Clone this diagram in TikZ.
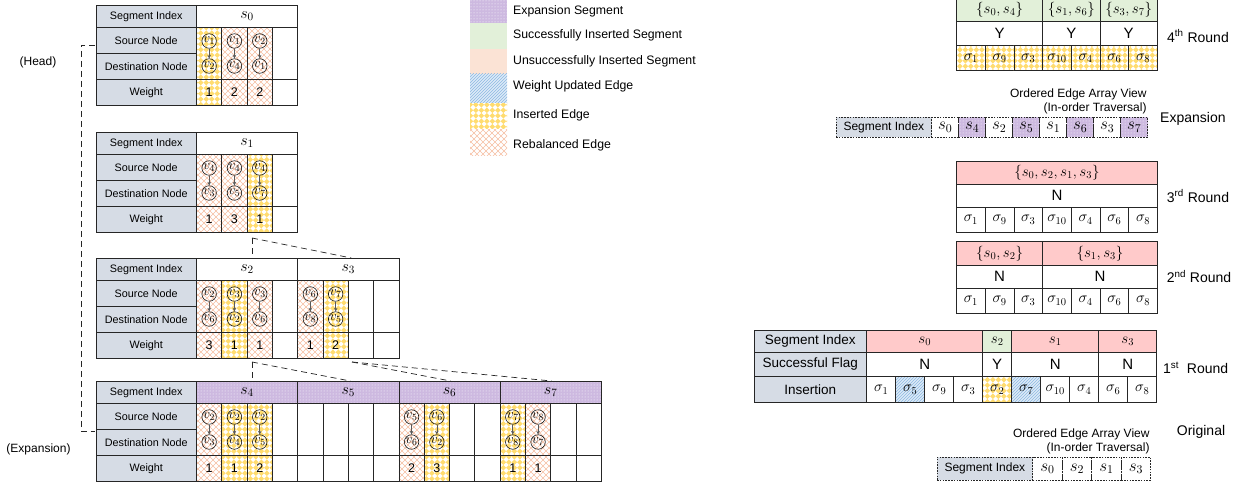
\documentclass[tikz,border=0pt]{standalone}
\usepackage{fix-cm}
\usepackage{fontspec}
\setmainfont{Liberation Sans}
\usetikzlibrary{arrows.meta,positioning,patterns}

\definecolor{labgray}{HTML}{D6DCE5}
\definecolor{okG}{HTML}{E2F0D9}
\definecolor{failR}{HTML}{FFCACA}
\definecolor{peach}{HTML}{FBE3D5}
\definecolor{expP}{HTML}{CDB9E0}
\definecolor{insY}{HTML}{FFDC70}
\definecolor{rebC}{HTML}{F6BFA3}
\definecolor{wbg}{HTML}{DDEBF7}
\definecolor{wline}{HTML}{8DB8E2}

% tilted checker for inserted edges
\pgfdeclarepatternformonly{diamondcheck}{\pgfqpoint{-0.1pt}{-0.1pt}}{\pgfqpoint{5.6pt}{5.6pt}}{\pgfqpoint{5.5pt}{5.5pt}}{%
  \pgfpathmoveto{\pgfqpoint{2.75pt}{0pt}}%
  \pgfpathlineto{\pgfqpoint{5.5pt}{2.75pt}}%
  \pgfpathlineto{\pgfqpoint{2.75pt}{5.5pt}}%
  \pgfpathlineto{\pgfqpoint{0pt}{2.75pt}}%
  \pgfpathclose
  \pgfusepath{fill}}
% diagonal cross hatch for rebalanced edges
\pgfdeclarepatternformonly{crossx}{\pgfqpoint{-0.5pt}{-0.5pt}}{\pgfqpoint{6.5pt}{6.5pt}}{\pgfqpoint{6pt}{6pt}}{%
  \pgfsetlinewidth{0.55pt}%
  \pgfpathmoveto{\pgfqpoint{0pt}{0pt}}\pgfpathlineto{\pgfqpoint{6pt}{6pt}}%
  \pgfpathmoveto{\pgfqpoint{0pt}{6pt}}\pgfpathlineto{\pgfqpoint{6pt}{0pt}}%
  \pgfusepath{stroke}}

% label column of a segment table
\newcommand{\labcol}{%
  \node[lab, minimum height=22.5] (si) at (50.25,11.25) {Segment Index};
  \node[lab] (sn) at (50.25,35.5) {Source Node};
  \node[lab] (dn) at (50.25,61.5) {Destination Node};
  \node[lab] (wt) at (50.25,87.5) {Weight};}
% one edge slot: column, look, source, destination, weight
\newcommand{\edgecol}[5]{%
  \node[ebox, #2, minimum height=52] (c#1) at ({113.15+25.3*#1},48.5) {};
  \node[ebox, #2] (w#1) at ({113.15+25.3*#1},87.5) {#5};
  \node[vtx] (u#1) at ({113.15+25.3*#1},36) {$v_{#3}$};
  \node[vtx] (d#1) at ({113.15+25.3*#1},61) {$v_{#4}$};
  \draw[earrow] (u#1) -- (d#1);}
\newcommand{\emptycol}[1]{%
  \node[ebox, minimum height=52] (c#1) at ({113.15+25.3*#1},48.5) {};
  \node[ebox] (w#1) at ({113.15+25.3*#1},87.5) {};}

\begin{document}
\begin{tikzpicture}[x=1pt, y=-1pt,
  tline/.style={draw=black!85, line width=0.8pt, outer sep=0pt},
  lab/.style={tline, fill=labgray, minimum width=100.5, minimum height=26, inner sep=0pt, font=\fontsize{10.8}{12}\selectfont},
  seghd/.style={tline, minimum height=22.5, inner sep=0pt, font=\fontsize{16}{16}\selectfont},
  ebox/.style={tline, minimum width=25.3, minimum height=26, inner sep=0pt, font=\fontsize{12.5}{13}\selectfont},
  vtx/.style={circle, draw=black!90, line width=0.6pt, minimum size=14.5, inner sep=0pt, font=\fontsize{13.5}{13.5}\selectfont},
  earrow/.style={-{Stealth[length=3.6pt,width=3.6pt]}, draw=black!65, line width=0.6pt},
  insedge/.style={preaction={fill=white}, pattern=diamondcheck, pattern color=insY},
  rebedge/.style={preaction={fill=white}, pattern=crossx, pattern color=rebC},
  wupd/.style={preaction={fill=wbg}, pattern=north east lines, pattern color=wline},
  expseg/.style={preaction={fill=expP}, pattern=dots, pattern color=white},
  okseg/.style={fill=okG},
  failseg/.style={fill=failR},
  failleg/.style={fill=peach},
  fork/.style={draw=black!85, line width=0.7pt, dash pattern=on 6pt off 4pt},
  side/.style={font=\fontsize{12}{14}\selectfont},
  rlab/.style={tline, fill=labgray, minimum width=112.7, inner sep=0pt, font=\fontsize{13.5}{14}\selectfont},
  rcell/.style={tline, inner sep=0pt, font=\fontsize{15}{15}\selectfont},
  c1/.style={minimum width=28.7}, c2/.style={minimum width=57.4},
  c3/.style={minimum width=86.1}, c4/.style={minimum width=114.8},
  c7/.style={minimum width=200.9},
  dline/.style={draw=black!85, line width=0.7pt, dash pattern=on 1.6pt off 1.2pt, outer sep=0pt, inner sep=0pt},
  viewcap/.style={align=right, font=\fontsize{12}{13.7}\selectfont, inner sep=1pt},
  rnd/.style={anchor=west, font=\fontsize{14}{16}\selectfont, inner sep=0pt},
  swatch/.style={minimum width=37, inner sep=0pt, outer sep=0pt},
  legtxt/.style={anchor=west, inner sep=0pt, font=\fontsize{12.3}{14}\selectfont}]

\path[use as bounding box, fill=white] (0,0) rectangle (1245,487);

% left: segment tables
\begin{scope}[shift={(96,5)}, name prefix=t0-]
  \labcol
  \node[seghd, minimum width=101.2] (s0) at (151.1,11.25) {$s_0$};
  \edgecol{0}{insedge}{1}{2}{1}
  \edgecol{1}{rebedge}{1}{4}{2}
  \edgecol{2}{rebedge}{2}{1}{2}
  \emptycol{3}
\end{scope}

\begin{scope}[shift={(96,132)}, name prefix=t1-]
  \labcol
  \node[seghd, minimum width=101.2] (s1) at (151.1,11.25) {$s_1$};
  \edgecol{0}{rebedge}{4}{3}{1}
  \edgecol{1}{rebedge}{4}{5}{3}
  \edgecol{2}{insedge}{4}{7}{1}
  \emptycol{3}
\end{scope}

\begin{scope}[shift={(96,258)}, name prefix=t2-]
  \labcol
  \node[seghd, minimum width=101.2] (s2) at (151.1,11.25) {$s_2$};
  \node[seghd, minimum width=101.2] (s3) at (252.3,11.25) {$s_3$};
  \edgecol{0}{rebedge}{2}{6}{3}
  \edgecol{1}{insedge}{3}{2}{1}
  \edgecol{2}{rebedge}{3}{6}{1}
  \emptycol{3}
  \edgecol{4}{rebedge}{6}{8}{1}
  \edgecol{5}{insedge}{7}{5}{2}
  \foreach \k in {6,7} {\emptycol{\k}}
\end{scope}

\begin{scope}[shift={(96,381)}, name prefix=t3-]
  \labcol
  \node[seghd, expseg, minimum width=101.2] (s4) at (151.1,11.25) {$s_4$};
  \node[seghd, expseg, minimum width=101.2] (s5) at (252.3,11.25) {$s_5$};
  \node[seghd, expseg, minimum width=101.2] (s6) at (353.5,11.25) {$s_6$};
  \node[seghd, expseg, minimum width=101.2] (s7) at (454.7,11.25) {$s_7$};
  \edgecol{0}{rebedge}{2}{3}{1}
  \edgecol{1}{insedge}{2}{4}{1}
  \edgecol{2}{insedge}{2}{5}{2}
  \foreach \k in {3,4,5,6,7} {\emptycol{\k}}
  \edgecol{8}{rebedge}{5}{6}{2}
  \edgecol{9}{insedge}{6}{2}{3}
  \foreach \k in {10,11} {\emptycol{\k}}
  \edgecol{12}{insedge}{7}{8}{1}
  \edgecol{13}{rebedge}{8}{7}{1}
  \foreach \k in {14,15} {\emptycol{\k}}
\end{scope}

\node[side] (head) at (38,62) {(Head)};
\node[side] (expn) at (38.5,449) {(Expansion)};
\coordinate (brtop) at (95,45);
\coordinate (brbot) at (95,431.5);
\draw[fork] (brtop) -- ++(-14,0) |- (brbot);

\coordinate (fork1) at (252,238);
\coordinate (fork2) at (252,362);
\coordinate (fork3) at (352,362);
\draw[fork] (fork1) -- (fork1 |- t2-s2.north);
\draw[fork] (fork1) -- ([xshift=3pt]t2-s3.north);
\draw[fork] (fork2) -- (fork2 |- t3-s4.north);
\draw[fork] (fork2) -- ([xshift=2pt]t3-s5.north);
\draw[fork] (fork3) -- ([xshift=1pt]t3-s6.north);
\draw[fork] (fork3) -- ([xshift=1pt]t3-s7.north);

% legend
\foreach \st/\ya/\yb/\yc/\txt [count=\k] in {expseg/0/23/11.7/Expansion Segment,
    okseg/23/49/35/Successfully Inserted Segment,
    failleg/49/74/61/Unsuccessfully Inserted Segment,
    wupd/74/103/86.7/Weight Updated Edge,
    insedge/103/129/115.7/Inserted Edge,
    rebedge/129/155/145/Rebalanced Edge} {
  \node[swatch, \st, minimum height={\yb-\ya}] (key\k) at (488.5,{(\ya+\yb)/2}) {};
  \node[legtxt] (keytxt\k) at (513,\yc) {\txt};
}

% right: 4th round
\node[rcell, okseg, c3, minimum height=23] (r4h1) at (999.55,9.5) {$\{s_0,s_4\}$};
\node[rcell, okseg, c2, minimum height=23] (r4h2) at (1071.3,9.5) {$\{s_1,s_6\}$};
\node[rcell, okseg, c2, minimum height=23] (r4h3) at (1128.7,9.5) {$\{s_3,s_7\}$};
\node[rcell, c3, minimum height=24.5] (r4f1) at (999.55,33.25) {Y};
\node[rcell, c2, minimum height=24.5] (r4f2) at (1071.3,33.25) {Y};
\node[rcell, c2, minimum height=24.5] (r4f3) at (1128.7,33.25) {Y};
\foreach \s [count=\k from 0] in {1,9,3,10,4,6,8}
  \node[rcell, insedge, c1, minimum height=25] (r4s\k) at ({970.85+28.7*\k},58) {$\sigma_{\s}$};
\node[rnd] (r4txt) at (1167,36) {4\textsuperscript{th} Round};

% expansion view
\node[dline, fill=labgray, minimum width=95.7, minimum height=20, font=\fontsize{12}{12}\selectfont] (exlab) at (883.85,127.3) {Segment Index};
\foreach \s/\st [count=\k from 0] in {0/,4/expseg,2/,5/expseg,1/,6/expseg,3/,7/expseg}
  \node[dline, \st, minimum width=27, minimum height=20, font=\fontsize{17}{17}\selectfont] (ex\k) at ({945.2+27*\k},127.3) {$s_{\s}$};
\node[viewcap, anchor=south east] (excap) at ([yshift=2pt]ex7.north east) {Ordered Edge Array View\\(In-order Traversal)};
\node[rnd] (extxt) at (1160,119) {Expansion};

% 3rd round
\node[rcell, failseg, c7, minimum height=23] (r3h) at (1056.95,172.5) {$\{s_0,s_2,s_1,s_3\}$};
\node[rcell, c7, minimum height=23.5] (r3f) at (1056.95,195.75) {N};
\foreach \s [count=\k from 0] in {1,9,3,10,4,6,8}
  \node[rcell, c1, minimum height=24.5] (r3s\k) at ({970.85+28.7*\k},219.75) {$\sigma_{\s}$};
\node[rnd] (r3txt) at (1166.7,196) {3\textsuperscript{rd} Round};

% 2nd round
\node[rcell, failseg, c3, minimum height=23.5] (r2h1) at (999.55,253.25) {$\{s_0,s_2\}$};
\node[rcell, failseg, c4, minimum height=23.5] (r2h2) at (1100,253.25) {$\{s_1,s_3\}$};
\node[rcell, c3, minimum height=23.5] (r2f1) at (999.55,276.75) {N};
\node[rcell, c4, minimum height=23.5] (r2f2) at (1100,276.75) {N};
\foreach \s [count=\k from 0] in {1,9,3,10,4,6,8}
  \node[rcell, c1, minimum height=24.5] (r2s\k) at ({970.85+28.7*\k},300.75) {$\sigma_{\s}$};
\node[rnd] (r2txt) at (1166.7,276.7) {2\textsuperscript{nd} Round};

% 1st round
\node[rlab, minimum height=22.3] (f1lab) at (810.35,341.15) {Segment Index};
\node[rlab, minimum height=24.4] (f2lab) at (810.35,364.5) {Successful Flag};
\node[rlab, minimum height=26] (f3lab) at (810.35,389.7) {Insertion};
\node[rcell, failseg, minimum width=116, minimum height=22.3] (f1h1) at (924.7,341.15) {$s_0$};
\node[rcell, okseg, minimum width=29, minimum height=22.3] (f1h2) at (997.2,341.15) {$s_2$};
\node[rcell, failseg, minimum width=87, minimum height=22.3] (f1h3) at (1055.2,341.15) {$s_1$};
\node[rcell, failseg, minimum width=58, minimum height=22.3] (f1h4) at (1127.7,341.15) {$s_3$};
\node[rcell, minimum width=116, minimum height=24.4] (f1f1) at (924.7,364.5) {N};
\node[rcell, minimum width=29, minimum height=24.4] (f1f2) at (997.2,364.5) {Y};
\node[rcell, minimum width=87, minimum height=24.4] (f1f3) at (1055.2,364.5) {N};
\node[rcell, minimum width=58, minimum height=24.4] (f1f4) at (1127.7,364.5) {N};
\foreach \s/\st [count=\k from 0] in {1/,5/wupd,9/,3/,2/insedge,7/wupd,10/,4/,6/,8/}
  \node[rcell, \st, minimum width=29, minimum height=26] (in\k) at ({881.2+29*\k},389.7) {$\sigma_{\s}$};
\node[rnd] (r1txt) at (1163,367.7) {1\textsuperscript{st}\ \ Round};

% original view
\node[dline, fill=labgray, minimum width=95.7, minimum height=22.7, font=\fontsize{12}{12}\selectfont] (orlab) at (984.85,468.65) {Segment Index};
\foreach \s [count=\k from 0] in {0,2,1,3}
  \node[dline, minimum width=29.5, minimum height=22.7, font=\fontsize{17}{17}\selectfont] (or\k) at ({1047.45+29.5*\k},468.65) {$s_{\s}$};
\node[viewcap, anchor=south east] (orcap) at ([yshift=2pt]or3.north east) {Ordered Edge Array View\\(In-order Traversal)};
\node[rnd] (ortxt) at (1176.7,431.7) {Original};
\end{tikzpicture}
\end{document}
